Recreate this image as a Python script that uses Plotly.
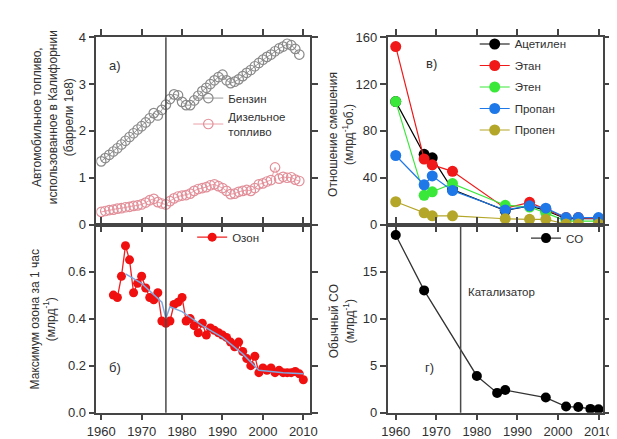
import plotly.graph_objects as go

# ---------------- data ----------------
fuel_years = list(range(1960, 2010))
gasoline = [1.35, 1.42, 1.49, 1.56, 1.63, 1.71, 1.79, 1.87, 1.95, 2.03,
            2.10, 2.18, 2.27, 2.38, 2.33, 2.45, 2.56, 2.68, 2.78, 2.76,
            2.62, 2.55, 2.55, 2.65, 2.75, 2.85, 2.92, 3.00, 3.08, 3.15,
            3.20, 3.08, 3.02, 3.05, 3.10, 3.17, 3.24, 3.30, 3.38, 3.45,
            3.52, 3.58, 3.63, 3.70, 3.76, 3.80, 3.86, 3.83, 3.75, 3.63]
diesel = [0.27, 0.29, 0.31, 0.32, 0.34, 0.35, 0.37, 0.38, 0.40, 0.41,
          0.43, 0.47, 0.52, 0.55, 0.48, 0.45, 0.43, 0.50, 0.56, 0.60,
          0.62, 0.63, 0.66, 0.72, 0.76, 0.78, 0.80, 0.84, 0.86, 0.82,
          0.78, 0.72, 0.65, 0.66, 0.70, 0.72, 0.74, 0.72, 0.78, 0.86,
          0.88, 0.92, 0.95, 1.22, 0.98, 1.02, 1.00, 1.01, 0.96, 0.93]

ozone_years = list(range(1963, 2011))
ozone = [0.50, 0.49, 0.58, 0.71, 0.65, 0.51, 0.55, 0.58, 0.53, 0.49,
         0.48, 0.51, 0.39, 0.38, 0.39, 0.46, 0.47, 0.49, 0.39, 0.40,
         0.37, 0.34, 0.38, 0.33, 0.36, 0.35, 0.34, 0.33, 0.32, 0.30,
         0.28, 0.30, 0.26, 0.23, 0.20, 0.24, 0.17, 0.19, 0.18, 0.19,
         0.17, 0.18, 0.17, 0.17, 0.17, 0.175, 0.165, 0.14]
ozone_trend_years = [1966, 1970, 1975, 1976, 1977, 1980, 1985, 1990, 1995, 1999, 2005, 2010]
ozone_trend = [0.59, 0.55, 0.47, 0.40, 0.45, 0.43, 0.37, 0.32, 0.25, 0.18, 0.17, 0.165]

voc_years = [1960, 1967, 1969, 1974, 1987, 1993, 1997, 2002, 2005, 2010]
acetylene = [105, 60, 57, 30, 12, 16, 12, 5, 5, 5]
ethane = [152, 56, 51, 45.5, 14, 19, 13, 6, 6, 5]
ethene = [105, 25, 28, 35, 16.5, 15, 10, 3, 3, 3]
propane = [59, 34, 41.5, 29, 12.5, 16, 14, 6, 6, 6]
propene = [19.5, 10, 7.5, 7.5, 5, 4.5, 4.5, 0.5, 0.5, 0.5]

co_years = [1960, 1967, 1980, 1985, 1987, 1997, 2002, 2005, 2008, 2010]
co = [18.9, 13.0, 3.9, 2.1, 2.4, 1.6, 0.65, 0.6, 0.4, 0.35]

catalyst_year = 1976

# ---------------- style ----------------
FONT = "Liberation Sans, Arial, sans-serif"
AX = "#454545"
TXT = "#303030"

fig = go.Figure()

# top-left: fuel
fig.add_trace(go.Scatter(x=fuel_years, y=gasoline, name="Бензин", mode="lines+markers",
                         line=dict(color="#9a9a9a", width=1),
                         marker=dict(symbol="circle-open", size=9.5, color="#8a8a8a", line=dict(width=1.2)),
                         xaxis="x", yaxis="y", legend="legend"))
fig.add_trace(go.Scatter(x=fuel_years, y=diesel, name="Дизельное<br>топливо", mode="lines+markers",
                         line=dict(color="#eaa0a8", width=1),
                         marker=dict(symbol="circle-open", size=9.5, color="#e2909a", line=dict(width=1.2)),
                         xaxis="x", yaxis="y", legend="legend"))

# top-right: VOCs
voc = [("Ацетилен", acetylene, "#000000"), ("Этан", ethane, "#f01818"),
       ("Этен", ethene, "#3ae83a"), ("Пропан", propane, "#1f78e8"),
       ("Пропен", propene, "#b4a628")]
for nm, vals, col in voc:
    fig.add_trace(go.Scatter(x=voc_years, y=vals, name=nm, mode="lines+markers",
                             line=dict(color=col, width=1.2),
                             marker=dict(size=11, color=col),
                             legendgroup=nm,
                             xaxis="x2", yaxis="y2", legend="legend3"))

# bottom-left: ozone
fig.add_trace(go.Scatter(x=ozone_years, y=ozone, name="Озон", mode="lines+markers",
                         line=dict(color="#f02020", width=1.3),
                         marker=dict(size=9, color="#f01010"),
                         xaxis="x3", yaxis="y3", legend="legend2"))
fig.add_trace(go.Scatter(x=ozone_trend_years, y=ozone_trend, mode="lines", showlegend=False,
                         line=dict(color="#7fa8e0", width=1.5),
                         xaxis="x3", yaxis="y3"))

# bottom-right: CO
fig.add_trace(go.Scatter(x=co_years, y=co, name="CO", mode="lines+markers",
                         line=dict(color="#333333", width=1.3),
                         marker=dict(size=10, color="#000000"),
                         xaxis="x4", yaxis="y4", legend="legend4"))

W, H = 617, 439
L_dom = [81 / W, 302 / W]
R_dom = [382 / W, 605 / W]
T_dom = [(H - 217) / H, (H - 23) / H]
B_dom = [(H - 411.7) / H, (H - 217) / H]

def xax(dom, anchor, rng, labels):
    return dict(domain=dom, anchor=anchor, range=rng, showgrid=False, zeroline=False,
                showline=True, linecolor=AX, linewidth=1.5, mirror="allticks",
                ticks="outside", ticklen=6, tickwidth=1.5, tickcolor=AX,
                tickvals=[1960, 1970, 1980, 1990, 2000, 2010], showticklabels=labels,
                tickfont=dict(size=13, color=TXT, family=FONT))

def yax(dom, anchor, rng, tv, tt):
    return dict(domain=dom, anchor=anchor, range=rng, showgrid=False, zeroline=False,
                showline=True, linecolor=AX, linewidth=1.5, mirror="allticks",
                ticks="outside", ticklen=6, tickwidth=1.5, tickcolor=AX,
                tickvals=tv, ticktext=tt,
                tickfont=dict(size=13, color=TXT, family=FONT))

leg_common = dict(bgcolor="rgba(0,0,0,0)", font=dict(size=11.5, color=TXT, family=FONT),
                  xanchor="left", yanchor="top")

fig.update_layout(
    width=W, height=H, margin=dict(l=0, r=0, t=0, b=0),
    paper_bgcolor="white", plot_bgcolor="white",
    font=dict(family=FONT, color=TXT),
    xaxis=xax(L_dom, "y", [1958.8, 2011.7], False),
    yaxis=yax(T_dom, "x", [0, 4], [0, 1, 2, 3, 4], ["0", "1", "2", "3", "4"]),
    xaxis2=xax(R_dom, "y2", [1958.0, 2011.2], False),
    yaxis2=yax(T_dom, "x2", [0, 160], [0, 40, 80, 120, 160], ["0", "40", "80", "120", "160"]),
    xaxis3=xax(L_dom, "y3", [1958.8, 2011.7], True),
    yaxis3=yax(B_dom, "x3", [0, 0.8], [0, 0.2, 0.4, 0.6, 0.8], ["0.0", "0.2", "0.4", "0.6", ""]),
    xaxis4=xax(R_dom, "y4", [1958.0, 2011.2], True),
    yaxis4=yax(B_dom, "x4", [0, 20], [0, 5, 10, 15, 20], ["0", "5", "10", "15", ""]),
    legend=dict(x=176 / W, y=1 - 71 / H, tracegroupgap=0, **leg_common),
    legend2=dict(x=180 / W, y=1 - 215 / H, **leg_common),
    legend3=dict(x=472 / W, y=1 - 15 / H, traceorder="grouped", tracegroupgap=2.5, **leg_common),
    legend4=dict(x=525 / W, y=1 - 216 / H, **leg_common),
)

# catalyst vertical lines
for xr, yr in [("x", "y domain"), ("x3", "y3 domain"), ("x4", "y4 domain")]:
    fig.add_shape(type="line", xref=xr, yref=yr, x0=catalyst_year, x1=catalyst_year,
                  y0=0, y1=1, line=dict(color="#4a4a4a", width=1.5))

def ann(text, x, y, size=12, angle=0, xanchor="center"):
    fig.add_annotation(text=text, xref="paper", yref="paper", x=x / W, y=1 - y / H,
                       showarrow=False, textangle=angle, xanchor=xanchor, yanchor="middle",
                       font=dict(size=size, color=TXT, family=FONT))

ann("Автомобильное топливо,<br>использованное в Калифорнии<br>(баррели 1e8)", 36, 106, angle=-90)
ann("Максимум озона за 1 час<br>(млрд<sup>-1</sup>)", 26, 315, angle=-90)
ann("Отношение смешения<br>(млрд<sup>-1</sup>об.)", 334, 124, angle=-90)
ann("Обычный CO<br>(млрд<sup>-1</sup>)", 335, 317, angle=-90)

ann("а)", 100, 52, size=13)
ann("б)", 100, 365, size=13)
ann("в)", 427, 50, size=13)
ann("г)", 425, 365, size=13)
ann("Катализатор", 463, 287, size=11.5, xanchor="left")

fig.write_html("out.html")
